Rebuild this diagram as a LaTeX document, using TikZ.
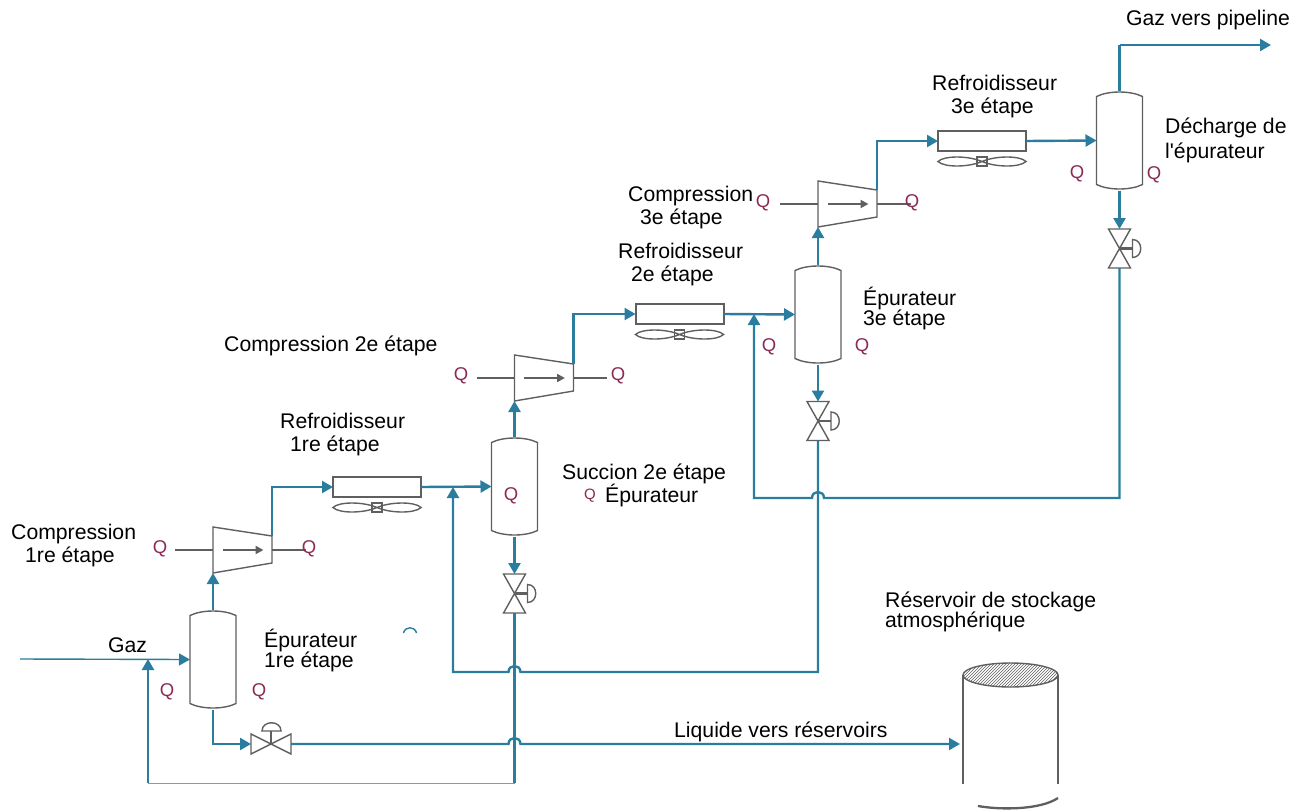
\documentclass[tikz,border=0pt]{standalone}
\usepackage{fontspec}
\setmainfont{Liberation Sans}
\usetikzlibrary{arrows.meta, patterns}
\definecolor{pipeblue}{HTML}{2A7D9E}
\definecolor{unitgray}{HTML}{5F5F5F}
\definecolor{qred}{HTML}{8A2A55}
\tikzset{
    unit/.style={inner sep=0pt, outer sep=0pt},
    body/.style={draw=unitgray, line width=1.4pt},
    heavy/.style={draw=unitgray, line width=2.3pt},
    pipe/.style={draw=pipeblue, line width=2.4pt},
    flow/.style={pipe, -{Triangle[length=11pt,width=12pt]}},
    lab/.style={anchor=west, align=left, inner sep=0pt, font=\fontsize{21.2}{23}\selectfont},
    duty/.style={inner sep=0pt, text=qred, font=\fontsize{18.5}{20}\selectfont},
}
\newcommand{\vessel}[3]{
    \node (#1) [unit, minimum width=46pt, minimum height=100pt] at (#2,#3) {};
    \draw[body] (#1.north west) ++(0,6) .. controls +(12,-6) and +(-12,-6) .. ++(46,0)
        -- ++(0,88) .. controls +(-12,6) and +(12,6) .. ++(-46,0) -- cycle;
}
\newcommand{\compressor}[3]{
    \node (#1) [unit, minimum width=59pt, minimum height=46pt] at (#2,#3) {};
    \coordinate (#1out) at (#2+29.5,#3-14);
    \coordinate (#1a) at (#2-67.5,#3);
    \coordinate (#1b) at (#2+63,#3);
    \draw[body] (#1.north west) -- (#1out) -- ++(0,27) -- (#1.south west) -- cycle;
    \draw[heavy] (#1a) -- (#1.west);
    \draw[heavy] (#2+29.5,#3) -- (#1b);
    \draw[heavy, -{Triangle[length=8pt,width=8pt]}] (#2-20,#3) -- (#2+21,#3);
}
\newcommand{\cooler}[3]{
    \node (#1) [unit, draw=unitgray, line width=2pt, minimum width=88pt, minimum height=20pt] at (#2,#3) {};
    \node (#1fan) [unit, body, minimum width=10pt, minimum height=9pt] at (#2,#3+20.5) {};
    \draw[body] (#1fan.center) .. controls +(-14,-6) and +(6,-6) .. ++(-44,0)
        .. controls +(6,6) and +(-14,6) .. ++(44,0)
        .. controls +(14,-6) and +(-6,-6) .. ++(44,0)
        .. controls +(-6,6) and +(14,6) .. ++(-44,0);
}
\newcommand{\valve}[3]{
    \node (#1) [unit, minimum width=22pt, minimum height=39pt] at (#2,#3) {};
    \draw[body] (#1.north west) -- (#1.north east) -- (#1.south west) -- (#1.south east) -- cycle;
    \draw[heavy] (#1.center) -- ++(13,0);
    \draw[body] (#2+13,#3-9) .. controls +(11,0) and +(11,0) .. (#2+13,#3+9) -- cycle;
}
\newcommand{\hop}[3]{-- (#1,#3) .. controls (#1,#3-8) and (#2,#3-8) .. (#2,#3)}

\begin{document}
\begin{tikzpicture}[x=1pt, y=-1pt]
    \useasboundingbox (0,0) rectangle (1304,809);

    \vessel{epa}{213}{659.5}
    \vessel{epb}{514.5}{486.5}
    \vessel{epc}{818}{314.5}
    \vessel{epd}{1119.5}{140.5}

    \compressor{coa}{242.5}{550}
    \compressor{cob}{544}{378}
    \compressor{coc}{847.5}{204}

    \cooler{rea}{377}{487}
    \cooler{reb}{679.5}{314}
    \cooler{rec}{982}{141}

    \valve{vab}{514.5}{593.5}
    \valve{vac}{818}{421}
    \valve{vad}{1119.5}{248.5}

    \node (vaa) [unit, minimum width=40pt, minimum height=20pt] at (271,744) {};
    \draw[body] (vaa.north west) -- (vaa.south west) -- (vaa.north east) -- (vaa.south east) -- cycle;
    \draw[heavy] (vaa.center) -- ++(0,-13);
    \draw[body] (262,731) .. controls +(0,-11) and +(0,-11) .. (281,731) -- cycle;

    \node (tank) [unit, minimum width=95pt, minimum height=106pt] at (1010.5,731) {};
    \draw[body, pattern=north east lines, pattern color=unitgray] (1010.5,675) ellipse [x radius=47.5, y radius=12];
    \draw[heavy] (tank.north west) ++(0,-3) -- (963,784);
    \draw[heavy] (tank.north east) ++(0,-3) -- (1058,784);
    \draw[heavy] (978,806) .. controls (1000,810) and (1040,810) .. (1058,798);

    \coordinate (gazin) at (20,659);
    \coordinate (juna) at (148,659);
    \coordinate (junb) at (148,783);
    \coordinate (junc) at (514.5,783);
    \coordinate (rema) at (818,672);
    \coordinate (remb) at (453,672);
    \coordinate (remc) at (1119.5,498);
    \coordinate (remd) at (754,498);
    \coordinate (outa) at (1119.5,45);
    \coordinate (outb) at (1271,45);

    \draw[pipe, -{Triangle[length=11pt,width=12pt]}, line width=1.4pt] (gazin) -- (epa.west);
    \draw[flow] (junb) -- (juna);
    \draw[draw=pipeblue!70, line width=1pt] (junb) -- (junc);
    \draw[pipe] (vab.south) -- (junc);

    \draw[flow] (epa.north) -- (coa.south west);
    \draw[flow] (coaout) |- (rea.west);
    \draw[flow] (rea.east) -- (epb.west);
    \draw[flow] (epb.north) -- (cob.south west);
    \draw[flow] (cobout) |- (reb.west);
    \draw[flow] (reb.east) -- (epc.west);
    \draw[flow] (epc.north) -- (coc.south west);
    \draw[flow] (cocout) |- (rec.west);
    \draw[flow] (rec.east) -- (epd.west);
    \draw[pipe] (epd.north) -- (outa);
    \draw[flow] (outa) -- (outb);

    \draw[flow] (epb.south) -- (vab.north);
    \draw[flow] (epc.south) -- (vac.north);
    \draw[flow] (epd.south) -- (vad.north);

    \draw[flow] (epa.south) |- (vaa.west);
    \draw[flow, shorten >=3pt] (vaa.east) \hop{508.5}{520.5}{744} -- (tank.west |- vaa.east);
    \draw[flow] (vac.south) -- (rema) \hop{520.5}{508.5}{672} -- (remb) -- (remb |- rea.east);
    \draw[flow] (vad.south) -- (remc) \hop{824}{812}{498} -- (remd) -- (remd |- reb.east);

    \draw[pipeblue, line width=1.4pt] (403.5,633) .. controls (405,626) and (415,626) .. (416.5,633);

    \node (tgaz) [lab] at (108,645) {Gaz};
    \node (tliq) [lab] at (674,732) {Liquide vers réservoirs};
    \node (tout) [lab] at (1126,20) {Gaz vers pipeline};
    \node (tcoa) [lab] at (11,545.5) {Compression\\\hspace*{14pt}1re étape};
    \node (tcob) [lab] at (224,346) {Compression 2e étape};
    \node (tcoc) [lab] at (628,207.5) {Compression\\\hspace*{12pt}3e étape};
    \node (trea) [lab] at (280,435) {Refroidisseur\\\hspace*{10pt}1re étape};
    \node (treb) [lab] at (618,265) {Refroidisseur\\\hspace*{13pt}2e étape};
    \node (trec) [lab] at (932,96.5) {Refroidisseur\\\hspace*{19pt}3e étape};
    \node (tepa) [lab] at (264,650) {Épurateur\\[-3pt]1re étape};
    \node (tepb) [lab] at (562,485.5) {Succion 2e étape\\\hspace*{43pt}Épurateur};
    \node (tepc) [lab] at (863,309) {Épurateur\\[-3pt]3e étape};
    \node (tepd) [lab] at (1165,140.5) {Décharge de\\[2pt]l\textquotesingle épurateur};
    \node (ttank) [lab] at (885,612) {Réservoir de stockage\\[-3pt]atmosphérique};

    \node (qa) [duty] at (160,549) {Q};
    \node (qb) [duty] at (309,549) {Q};
    \node (qc) [duty] at (167,692) {Q};
    \node (qd) [duty] at (259,692) {Q};
    \node (qe) [duty] at (461,376) {Q};
    \node (qf) [duty] at (618,376) {Q};
    \node (qg) [duty] at (511,496) {Q};
    \node (qh) [duty, font=\fontsize{15}{16}\selectfont] at (590,496) {Q};
    \node (qi) [duty] at (769,347) {Q};
    \node (qj) [duty] at (862,347) {Q};
    \node (qk) [duty] at (763,203) {Q};
    \node (ql) [duty] at (912,203) {Q};
    \node (qm) [duty] at (1077,174) {Q};
    \node (qn) [duty] at (1154,175) {Q};
\end{tikzpicture}
\end{document}
